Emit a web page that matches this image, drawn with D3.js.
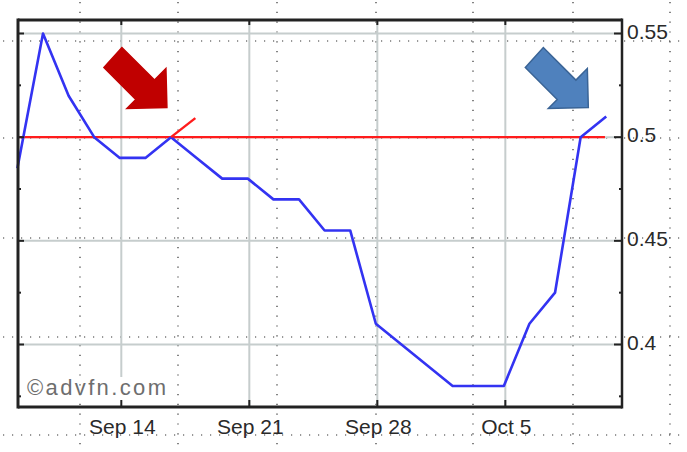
<!DOCTYPE html>
<html>
<head>
<meta charset="utf-8">
<script src="https://cdn.jsdelivr.net/npm/d3@7/dist/d3.min.js"></script>
<style>
  html, body { margin: 0; padding: 0; background: #fff; }
  svg { display: block; }
</style>
</head>
<body>
<svg id="chart" width="687" height="452"></svg>
<script>
// ---- data ----
const dates = ["Sep 8","Sep 9","Sep 10","Sep 11","Sep 14","Sep 15","Sep 16","Sep 17","Sep 18",
  "Sep 21","Sep 22","Sep 23","Sep 24","Sep 25","Sep 28","Sep 29","Sep 30","Oct 1","Oct 2",
  "Oct 5","Oct 6","Oct 7","Oct 8","Oct 9"];
const prices = [0.485,0.55,0.52,0.50,0.49,0.49,0.50,0.49,0.48,
  0.48,0.47,0.47,0.455,0.455,0.41,0.40,0.39,0.38,0.38,
  0.38,0.41,0.425,0.50,0.51];
const xTickLabels = ["Sep 14","Sep 21","Sep 28","Oct 5"];
const yTickValues = [0.4,0.45,0.5,0.55];
const yMinorValues = [0.375,0.425,0.475,0.525];
const resistanceLevel = 0.5;
const redTrendIdx = [6, 6.95];
const redTrendVal = [0.5, 0.5092];
const arrowTipsIdx = [5.84, 22.3];
const arrowTipsVal = [0.5143, 0.5143];
const arrowColors = ["#c00000", "#4f81bd"];
const arrowStrokes = ["#c00000", "#3a6496"];
const watermark = "©advfn.com";

// ---- layout ----
const svg = d3.select("#chart");
const L = 18, R = 622, T = 20, B = 407;
const x = d3.scaleLinear().domain([0, 23.6]).range([17.4, 621.6]);
const y = d3.scaleLinear().domain([0.4, 0.55]).range([344.5, 33.5]);
const idx = d => dates.indexOf(d);

// slide dotted grid (background)
const dotsV = [80, 178, 277, 376, 473, 573, 670];
const dotsH = [41, 138, 238, 337, 435];
const bg = svg.append("g");
bg.selectAll("line.dv").data(dotsV).join("line")
  .attr("x1", d => d).attr("x2", d => d).attr("y1", 2).attr("y2", 452)
  .attr("stroke", "#333").attr("stroke-width", 1.2).attr("stroke-dasharray", "1.2,8.6");
bg.selectAll("line.dh").data(dotsH).join("line")
  .attr("y1", d => d).attr("y2", d => d).attr("x1", 3).attr("x2", 687)
  .attr("stroke", "#333").attr("stroke-width", 1.2).attr("stroke-dasharray", "1.2,7.8");

// gridlines
const grid = svg.append("g");
grid.selectAll("line.gx").data(xTickLabels).join("line")
  .attr("x1", d => x(idx(d)) + 1.5).attr("x2", d => x(idx(d)) + 1.5)
  .attr("y1", T).attr("y2", (d, i) => i === 0 ? 377 : B)
  .attr("stroke", "#c6cdcd").attr("stroke-width", 2);
grid.selectAll("line.gy").data(yTickValues).join("line")
  .attr("x1", L).attr("x2", R).attr("y1", d => y(d)).attr("y2", d => y(d))
  .attr("stroke", "#c6cdcd").attr("stroke-width", 2);

// watermark
svg.append("text").attr("x", 27).attr("y", 395)
  .attr("font-family", "Liberation Sans, Arial, sans-serif").attr("font-size", 22)
  .attr("fill", "#6e6e6e").attr("textLength", 139).attr("lengthAdjust", "spacing")
  .text(watermark);

// red resistance line
svg.append("line")
  .attr("x1", L).attr("x2", x(22.95)).attr("y1", y(resistanceLevel)).attr("y2", y(resistanceLevel))
  .attr("stroke", "#ff1c1c").attr("stroke-width", 2.2);

// price line
svg.append("path").datum(prices)
  .attr("d", d3.line().x((d, i) => x(i)).y(d => y(d)))
  .attr("fill", "none").attr("stroke", "#3333f2").attr("stroke-width", 2.6)
  .attr("stroke-linejoin", "round");

// red trend stub
svg.append("line")
  .attr("x1", x(redTrendIdx[0])).attr("y1", y(redTrendVal[0]))
  .attr("x2", x(redTrendIdx[1])).attr("y2", y(redTrendVal[1]))
  .attr("stroke", "#ff1c1c").attr("stroke-width", 2.4);

// frame
const frame = svg.append("g").attr("stroke", "#222").attr("fill", "none");
frame.append("line").attr("x1", L).attr("x2", L).attr("y1", T - 1.5).attr("y2", B + 1.5).attr("stroke-width", 3);
frame.append("line").attr("x1", L).attr("x2", R).attr("y1", T).attr("y2", T).attr("stroke-width", 3);
frame.append("line").attr("x1", R).attr("x2", R).attr("y1", T - 1.5).attr("y2", B + 1.5).attr("stroke-width", 2.5);
frame.append("line").attr("x1", L).attr("x2", R).attr("y1", B).attr("y2", B).attr("stroke-width", 3);

// ticks
const tk = svg.append("g").attr("stroke", "#222").attr("stroke-width", 2);
tk.selectAll("line.lt").data(yTickValues).join("line")
  .attr("x1", L).attr("x2", L + 6).attr("y1", d => y(d)).attr("y2", d => y(d));
tk.selectAll("line.lm").data(yMinorValues).join("line")
  .attr("x1", L).attr("x2", L + 3).attr("y1", d => y(d)).attr("y2", d => y(d));
tk.selectAll("line.rt").data(yTickValues).join("line")
  .attr("x1", R - 8).attr("x2", R).attr("y1", d => y(d)).attr("y2", d => y(d));
tk.selectAll("line.rm").data(yMinorValues).join("line")
  .attr("x1", R - 3).attr("x2", R).attr("y1", d => y(d)).attr("y2", d => y(d));
tk.selectAll("line.bt").data(xTickLabels).join("line")
  .attr("x1", d => x(idx(d)) + 1.5).attr("x2", d => x(idx(d)) + 1.5).attr("y1", B - 7).attr("y2", B);
tk.selectAll("line.tt").data(xTickLabels).join("line")
  .attr("x1", d => x(idx(d)) + 1.5).attr("x2", d => x(idx(d)) + 1.5).attr("y1", T).attr("y2", T + 5);

// labels
const font = "Liberation Sans, Arial, sans-serif";
svg.selectAll("text.xl").data(xTickLabels).join("text")
  .attr("x", d => x(idx(d)) + 2.5).attr("y", 434)
  .attr("text-anchor", "middle").attr("font-family", font).attr("font-size", 21)
  .attr("fill", "#2a2a2a").text(d => d);
svg.selectAll("text.yl").data(yTickValues).join("text")
  .attr("x", 627).attr("y", d => y(d) + 5)
  .attr("font-family", font).attr("font-size", 21)
  .attr("fill", "#2a2a2a").text(d => d3.format("")(d));

// arrows (shape relative to tip)
const arrowShape = [[-63,-40],[-45,-60],[-12.4,-27.4],[-1,-39],[0,0],[-40,1],[-31.1,-8.1]];
svg.selectAll("path.arrow").data(arrowTipsIdx).join("path")
  .attr("d", (d, i) => {
    const tx = x(d), ty = y(arrowTipsVal[i]);
    return "M" + arrowShape.map(p => [tx + p[0], ty + p[1]].join(",")).join("L") + "Z";
  })
  .attr("fill", (d, i) => arrowColors[i])
  .attr("stroke", (d, i) => arrowStrokes[i]).attr("stroke-width", 1.5)
  .attr("stroke-linejoin", "miter");
</script>
</body>
</html>
